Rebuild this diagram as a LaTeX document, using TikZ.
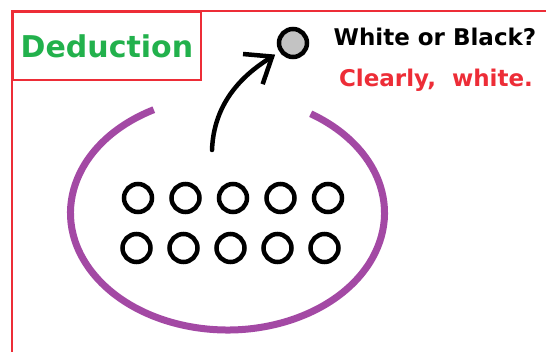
\documentclass[tikz,border=0pt]{standalone}
\usepackage{fontspec}
\setmainfont{DejaVu Sans}
\usepackage{xcolor}
\definecolor{dRed}{RGB}{237,45,55}
\definecolor{dGreen}{RGB}{34,177,76}
\definecolor{dPurple}{RGB}{163,73,164}
\definecolor{dGray}{RGB}{195,195,195}
\usetikzlibrary{positioning,arrows.meta,calc}

\begin{document}
\begin{tikzpicture}[x=1pt,y=1pt,
  frame/.style={draw=dRed,line width=1.8pt},
  ttl/.style={frame,anchor=north west,minimum width=188pt,minimum height=68pt,
    font=\fontsize{30}{34}\selectfont\bfseries,text=dGreen},
  txt/.style={font=\fontsize{23}{26}\selectfont\bfseries},
  ball/.style={circle,draw=black,line width=4.5pt,inner sep=0pt,minimum size=28pt},
  bag/.style={dPurple,line width=7pt},
  a/.style={-{Straight Barb[length=23pt,width=36pt,line width=4.5pt]},line width=4.5pt,line cap=round}]
  \useasboundingbox (0,0) rectangle (546,352);
  % outer frame, runs off the page on the right and bottom
  \draw[frame] (12,-10) -- (12,341) -- (560,341);
  \node[ttl] (ded) at (12,341) {Deduction};
  % the ball drawn out and the question
  \node[ball,fill=dGray] (q) at (293,309) {};
  \node[txt] (wb) at (435,315) {White or Black?};
  \node[txt,text=dRed] (cw) at (436,272) {Clearly,~ white.};
  % the bag
  \coordinate (bc) at (227.5,139);
  \draw[bag] ($(bc)+(118:157 and 117)$) arc[start angle=118,end angle=418,x radius=157,y radius=117];
  \foreach \i in {0,...,4} {
    \node[ball] (w1-\i) at (138+47.5*\i,154) {};
    \node[ball] (w2-\i) at (136.5+47*\i,104) {};
  }
  \coordinate (src) at (212,202);
  \draw[a,shorten >=5pt] (src) .. controls +(2,55) and +(-40,-26) .. (q);
\end{tikzpicture}
\end{document}
